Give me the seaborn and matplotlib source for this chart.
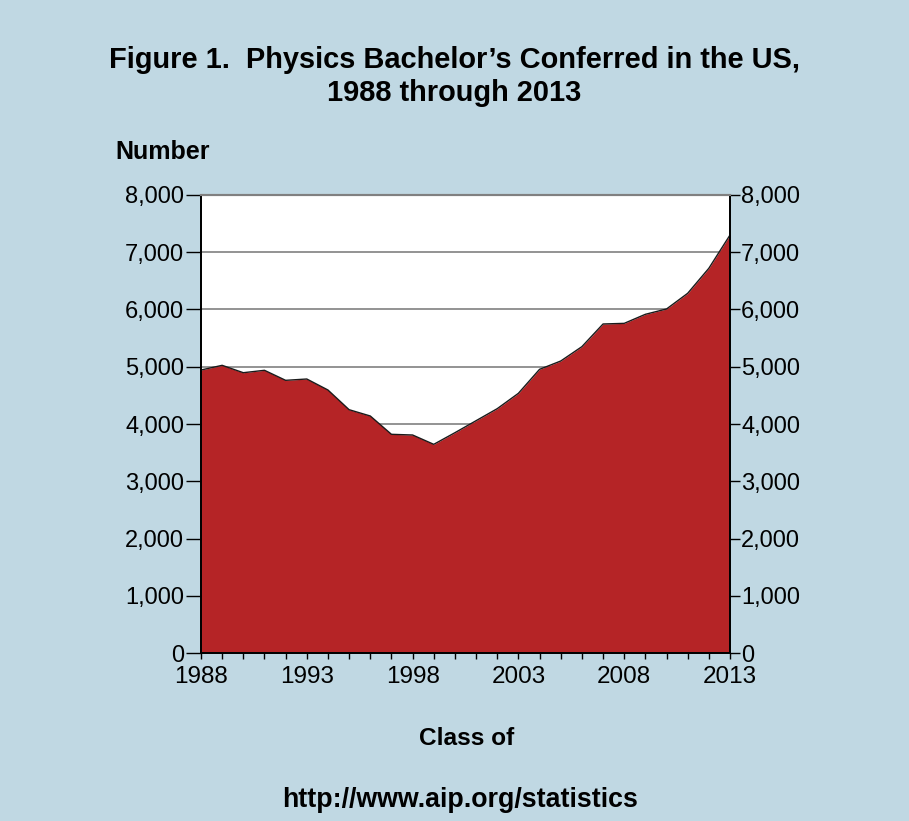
import numpy as np
import pandas as pd
import matplotlib
matplotlib.use('Agg')
import matplotlib.pyplot as plt
from matplotlib.ticker import MultipleLocator, FuncFormatter
import seaborn as sns

# Data
years = list(range(1988, 2014))
bachelors = [4943, 5025, 4896, 4938, 4763, 4786, 4594, 4250, 4140, 3820,
             3808, 3645, 3848, 4058, 4268, 4536, 4955, 5100, 5351, 5747,
             5758, 5916, 6009, 6283, 6720, 7301]
year_ticks = [1988, 1993, 1998, 2003, 2008, 2013]
y_ticks = [0, 1000, 2000, 3000, 4000, 5000, 6000, 7000, 8000]

df = pd.DataFrame({'year': years, 'count': bachelors})

bg = '#c0d8e3'
red = '#b52426'

sns.set_theme(style="white")
plt.rcParams['font.family'] = ['Liberation Sans', 'DejaVu Sans']
plt.rcParams['text.color'] = 'black'

fig = plt.figure(figsize=(9.09, 8.21), dpi=100, facecolor=bg)
ax = fig.add_axes([0.2211, 0.2046, 0.582, 0.5579])
ax.set_facecolor('white')

# Grid lines
for v in y_ticks[1:]:
    ax.axhline(v, color='#808080', lw=1.2, zorder=1)

ax.fill_between(df['year'], df['count'], color=red, zorder=2, lw=0)
sns.lineplot(data=df, x='year', y='count', ax=ax, color='#1a1a1a', lw=1.0, zorder=3)

fmt = FuncFormatter(lambda v, p: f'{int(v):,}')

ax.set_xlim(1988, 2013)
ax.set_ylim(0, 8000)
ax.set_xticks(year_ticks)
ax.xaxis.set_minor_locator(MultipleLocator(1))
ax.set_yticks(y_ticks)
ax.yaxis.set_major_formatter(fmt)

ax.tick_params(axis='y', which='major', direction='out', length=11, width=1,
               color='black', labelsize=17, left=True, pad=1, labelcolor='black')
ax.tick_params(axis='x', which='both', direction='out', length=4, width=1,
               color='black', labelsize=17.5, bottom=True, pad=5, labelcolor='black')

# right-hand axis mirrors the left one
ax2 = ax.twinx()
ax2.set_ylim(0, 8000)
ax2.set_yticks(y_ticks)
ax2.yaxis.set_major_formatter(fmt)
ax2.tick_params(axis='y', which='major', direction='out', length=7, width=1,
                color='black', labelsize=17, right=True, pad=1, labelcolor='black')
ax2.grid(False)

for a in (ax, ax2):
    for side in ['left', 'right', 'bottom']:
        a.spines[side].set_color('black')
        a.spines[side].set_linewidth(1.3)
    a.spines['top'].set_color('#808080')
    a.spines['top'].set_linewidth(1.5)

ax.set_xlabel('')
ax.set_ylabel('')
ax2.set_ylabel('')

fig.text(0.5, 0.907, 'Figure 1.  Physics Bachelor\u2019s Conferred in the US,\n1988 through 2013',
         ha='center', va='center', fontsize=20.9, fontweight='bold', linespacing=1.25)
fig.text(0.127, 0.815, 'Number', ha='left', va='center', fontsize=18, fontweight='bold')
fig.text(0.513, 0.101, 'Class of', ha='center', va='center', fontsize=17.6, fontweight='bold')
fig.text(0.506, 0.026, 'http://www.aip.org/statistics', ha='center', va='center',
         fontsize=19.3, fontweight='bold')

fig.savefig('out.png', dpi=100, facecolor=bg)
